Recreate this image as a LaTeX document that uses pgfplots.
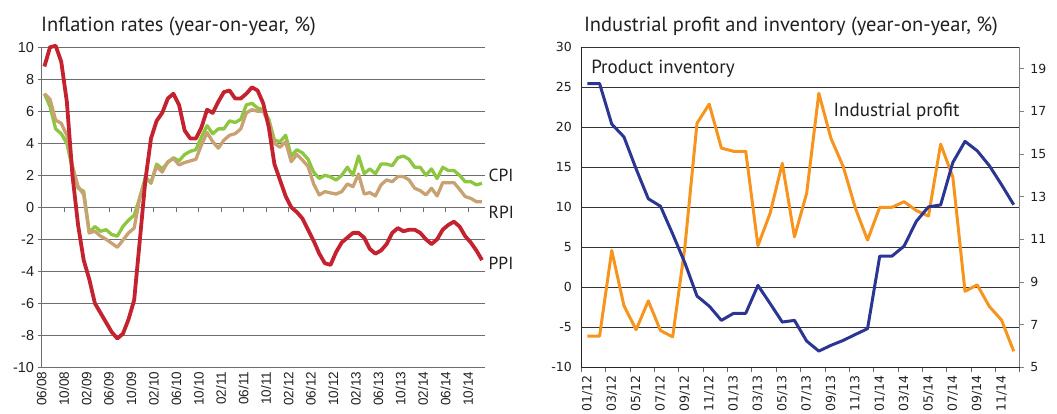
\documentclass[border=0pt]{standalone}
\usepackage{fontspec}
\setmainfont{PT Sans}
\newfontfamily\numfont{Liberation Sans}
\newfontfamily\verfont{DejaVu Sans}
\usepackage{pgfplots}
\usepackage{pgfplotstable}
\pgfplotsset{compat=1.18}
\definecolor{ppi}{HTML}{C4222F}
\definecolor{cpi}{HTML}{8DC63F}
\definecolor{rpi}{HTML}{C8A272}
\definecolor{inv}{HTML}{2B3592}
\definecolor{prof}{HTML}{F7941D}
\definecolor{txt}{HTML}{231F20}
\definecolor{gridc}{HTML}{6D6E71}

\pgfplotstableread{
i cpi rpi ppi
0 7.1 7.1 8.8
1 6.3 6.75 10.0
2 4.9 5.45 10.1
3 4.6 5.25 9.1
4 4.0 4.5 6.6
5 2.4 2.6 2.0
6 1.2 1.3 -1.1
7 1.0 0.8 -3.3
8 -1.6 -1.6 -4.5
9 -1.2 -1.5 -6.0
10 -1.5 -1.8 -6.6
11 -1.4 -2.0 -7.2
12 -1.7 -2.25 -7.8
13 -1.8 -2.5 -8.2
14 -1.2 -2.05 -7.9
15 -0.8 -1.6 -7.0
16 -0.5 -1.3 -5.8
17 0.6 0.6 -2.1
18 1.9 1.7 1.7
19 1.5 1.6 4.3
20 2.7 2.55 5.4
21 2.4 2.2 5.9
22 2.8 2.85 6.8
23 3.1 3.05 7.1
24 2.9 2.65 6.4
25 3.3 2.8 4.8
26 3.5 2.9 4.3
27 3.6 3.0 4.3
28 4.4 3.9 5.0
29 5.1 4.67 6.1
30 4.6 4.1 5.9
31 4.9 3.7 6.6
32 4.9 4.2 7.2
33 5.4 4.5 7.3
34 5.3 4.6 6.8
35 5.5 4.9 6.8
36 6.4 5.9 7.1
37 6.5 6.1 7.5
38 6.2 6.0 7.3
39 6.1 6.0 6.5
40 5.5 5.25 5.0
41 4.2 4.0 2.7
42 4.1 3.75 1.7
43 4.5 4.1 0.7
44 3.2 2.85 0.0
45 3.6 3.3 -0.3
46 3.4 2.95 -0.7
47 3.0 2.55 -1.4
48 2.2 1.45 -2.1
49 1.8 0.77 -2.9
50 2.0 0.98 -3.5
51 1.9 0.9 -3.6
52 1.7 0.83 -2.8
53 2.0 0.98 -2.2
54 2.5 1.46 -1.9
55 2.0 1.29 -1.6
56 3.2 2.08 -1.6
57 2.1 0.83 -1.9
58 2.4 0.92 -2.6
59 2.1 0.71 -2.9
60 2.7 1.4 -2.7
61 2.7 1.71 -2.3
62 2.6 1.6 -1.6
63 3.1 1.92 -1.3
64 3.2 1.92 -1.5
65 3.0 1.71 -1.4
66 2.5 1.19 -1.4
67 2.5 1.04 -1.6
68 2.0 0.77 -2.0
69 2.4 1.19 -2.3
70 1.8 0.71 -2.0
71 2.5 1.54 -1.4
72 2.3 1.54 -1.1
73 2.3 1.54 -0.9
74 2.0 1.13 -1.2
75 1.6 0.67 -1.8
76 1.6 0.56 -2.2
77 1.4 0.35 -2.7
78 1.5 0.35 -3.3
}\inflation

\pgfplotstableread{
i profit inventory
0 -6.1 18.3
1 -6.1 18.3
2 4.6 16.4
3 -2.3 15.8
4 -5.3 14.3
5 -1.7 12.9
6 -5.4 12.55
7 -6.2 11.25
8 5.0 9.9
9 20.5 8.34
10 22.9 7.87
11 17.4 7.2
12 17.0 7.53
13 17.0 7.53
14 5.2 8.84
15 9.25 7.99
16 15.5 7.12
17 6.3 7.2
18 11.75 6.23
19 24.25 5.76
20 18.6 6.03
21 15.1 6.26
22 9.9 6.54
23 5.9 6.81
24 10.0 10.21
25 10.0 10.21
26 10.7 10.68
27 9.6 11.84
28 8.9 12.52
29 17.9 12.61
30 13.8 14.6
31 -0.5 15.59
32 0.3 15.15
33 -2.4 14.45
34 -4.1 13.56
35 -8.0 12.62
}\industry

\begin{document}
\begin{tikzpicture}[x=1pt,y=1pt]
\path[use as bounding box] (0,0) rectangle (1057,414);

% ---------- Left chart ----------
\node[anchor=base west, inner sep=0, text=txt, font=\fontsize{20.5}{24}\selectfont] at (41,382) {Inflation rates (year-on-year, \%)};
\begin{axis}[
  at={(41.6pt,46.7pt)}, anchor=south west, scale only axis,
  width=443.2pt, height=320pt,
  xmin=-0.5, xmax=78.5, ymin=-10, ymax=10,
  /pgf/number format/assume math mode=true,
  separate axis lines,
  axis x line*=bottom, axis y line*=left,
  x axis line style={draw=none},
  y axis line style={draw=gridc, line width=0.8pt, -},
  ytick={-10,-8,...,10},
  ymajorgrids, grid style={draw=gridc, line width=0.8pt},
  ytick align=outside, ytick pos=left,
  ytick style={draw=gridc, line width=0.8pt},
  major tick length=4pt,
  xtick={-0.5,3.5,...,75.5},
  xticklabels={06/08,10/08,02/09,06/09,10/09,02/10,06/10,10/10,02/11,06/11,10/11,02/12,06/12,10/12,02/13,06/13,10/13,02/14,06/14,10/14},
  xtick style={draw=none},
  xticklabel style={rotate=90, anchor=east, text=txt, font=\numfont\fontsize{13.5}{15}\selectfont, xshift=-1pt},
  yticklabel style={text=txt, font=\numfont\fontsize{14.5}{16}\selectfont},
  clip=false,
]
\pgfplotsinvokeforeach{3.5,7.5,...,75.5}{\draw[gridc, line width=0.8pt] (axis cs:#1,0) -- ++(0pt,-5pt);}
\addplot[cpi, line width=3.3pt, line join=round] table[x=i, y=cpi] {\inflation};
\addplot[rpi, line width=3.3pt, line join=round] table[x=i, y=rpi] {\inflation};
\addplot[ppi, line width=3.8pt, line join=round] table[x=i, y=ppi] {\inflation};
\node[anchor=west, inner sep=0, xshift=3.7pt, text=txt, font=\fontsize{17.5}{20}\selectfont] at (axis cs:78.5,1.98) {CPI};
\node[anchor=west, inner sep=0, xshift=3.7pt, text=txt, font=\fontsize{17.5}{20}\selectfont] at (axis cs:78.5,-0.34) {RPI};
\node[anchor=west, inner sep=0, xshift=3.7pt, text=txt, font=\fontsize{17.5}{20}\selectfont] at (axis cs:78.5,-3.5) {PPI};
\end{axis}

% ---------- Right chart ----------
\node[anchor=base west, inner sep=0, text=txt, font=\fontsize{20.5}{24}\selectfont] at (583.8,382) {Industrial profit and inventory (year-on-year, \%)};
\begin{axis}[
  at={(581.3pt,46.7pt)}, anchor=south west, scale only axis,
  width=438.5pt, height=320pt,
  xmin=-0.5, xmax=35.5, ymin=-10, ymax=30,
  /pgf/number format/assume math mode=true,
  separate axis lines,
  axis x line*=bottom, axis y line*=left,
  x axis line style={draw=black!85, line width=0.8pt, -},
  y axis line style={draw=black!85, line width=0.8pt, -},
  ytick={-10,-5,...,30},
  ymajorgrids, grid style={draw=black!80, line width=0.8pt},
  ytick style={draw=none},
  xtick={0,2,...,34},
  xticklabels={01/12,03/12,05/12,07/12,09/12,11/12,01/13,03/13,05/13,07/13,09/13,11/13,01/14,03/14,05/14,07/14,09/14,11/14},
  minor xtick={-0.5,1.5,...,35.5},
  xtick align=outside,
  major x tick style={draw=none},
  minor x tick style={draw=black!60, line width=0.8pt},
  minor tick length=5pt, major tick length=5pt,
  xticklabel style={rotate=90, anchor=east, text=txt, font=\verfont\fontsize{12.5}{14}\selectfont},
  yticklabel style={text=txt, font=\verfont\fontsize{12.5}{14}\selectfont, xshift=-6pt},
  clip=false,
]
\addplot[prof, line width=3pt, line join=round] table[x=i, y=profit] {\industry};
\node[anchor=west, inner sep=0, text=txt, font=\fontsize{19}{22}\selectfont] at (axis cs:0.3,27.3) {Product inventory};
\node[anchor=west, inner sep=0, text=txt, font=\fontsize{19}{22}\selectfont] at (axis cs:20.2,22.0) {Industrial profit};
\end{axis}
\begin{axis}[
  at={(581.3pt,46.7pt)}, anchor=south west, scale only axis,
  width=438.5pt, height=320pt,
  xmin=-0.5, xmax=35.5, ymin=5, ymax=20,
  /pgf/number format/assume math mode=true,
  axis x line=none, axis y line*=right,
  y axis line style={draw=black!50, line width=0.8pt, -},
  ytick={5,7,...,19},
  ytick align=outside, major tick length=4pt,
  ytick style={draw=black!50, line width=0.8pt},
  yticklabel style={text=txt, font=\verfont\fontsize{12.5}{14}\selectfont, xshift=3pt},
]
\addplot[inv, line width=3pt, line join=round] table[x=i, y=inventory] {\industry};
\end{axis}
\end{tikzpicture}
\end{document}
